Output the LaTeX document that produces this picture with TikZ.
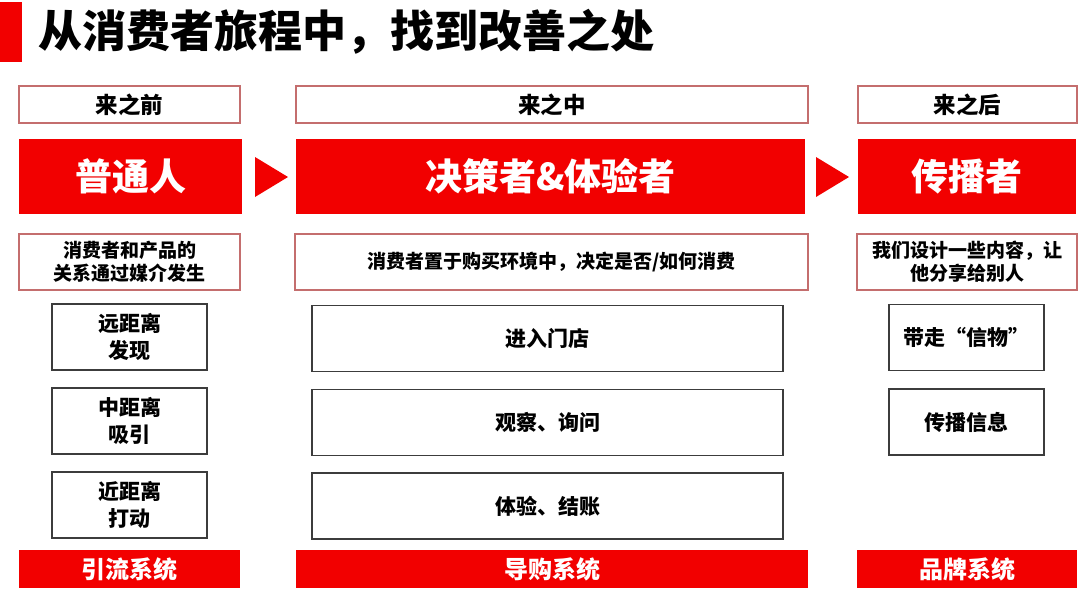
\documentclass[tikz,border=0pt]{standalone}
\usepackage{fontspec}
\setmainfont{Noto Sans CJK SC}
\definecolor{mainred}{RGB}{242,0,0}
\definecolor{pinkline}{RGB}{196,110,110}
\definecolor{boxline}{RGB}{60,60,60}
\begin{document}
\begin{tikzpicture}[x=1pt,y=-1pt,
  hdrbox/.style={draw=pinkline,line width=1.1pt,fill=white,inner sep=0pt,minimum height=37pt,font=\fontsize{22.5}{25}\selectfont\bfseries,text=black},
  redbox/.style={fill=mainred,inner sep=0pt,minimum height=75pt,font=\fontsize{37}{40}\selectfont\bfseries,text=white},
  descbox/.style={draw=pinkline,line width=1.1pt,inner sep=0pt,minimum height=56pt,align=center,font=\fontsize{19}{23}\selectfont\bfseries,text=black},
  itembox/.style={draw=boxline,line width=1.2pt,inner sep=0pt,minimum height=66pt,align=center,font=\fontsize{21}{27}\selectfont\bfseries,text=black},
  sysbar/.style={fill=mainred,inner sep=0pt,minimum height=38pt,font=\fontsize{24}{26}\selectfont\bfseries,text=white},
  arrowtri/.style={fill=mainred}
]
\useasboundingbox (0,0) rectangle (1080,590);
\fill[white] (0,0) rectangle (1080,590);
% title
\fill[mainred] (0,2) rectangle (22,62);
\node[anchor=west,inner sep=0pt,font=\fontsize{44}{47}\selectfont\bfseries] (title) at (38,32) {从消费者旅程中，找到改善之处};
% headers
\node[hdrbox,minimum width=221pt] (h1) at (129.5,104.5) {来之前};
\node[hdrbox,minimum width=512pt] (h2) at (552,104.5) {来之中};
\node[hdrbox,minimum width=219pt] (h3) at (967.5,104.5) {来之后};
% red role boxes
\node[redbox,minimum width=223pt] (r1) at (130.5,176.5) {普通人};
\node[redbox,minimum width=509pt] (r2) at (550.5,176.5) {决策者\&体验者};
\node[redbox,minimum width=218pt] (r3) at (967,176.5) {传播者};
% arrows
\fill[arrowtri] (255,157) -- (288,177) -- (255,197) -- cycle;
\fill[arrowtri] (816,157) -- (849,177) -- (816,197) -- cycle;
% descriptions
\node[descbox,minimum width=221pt] (d1) at (129.5,262) {消费者和产品的\\关系通过媒介发生};
\node[descbox,minimum width=513pt] (d2) at (551.5,262) {消费者置于购买环境中，决定是否/如何消费};
\node[descbox,minimum width=220pt] (d3) at (967,262) {我们设计一些内容，让\\他分享给别人};
% items col1
\node[itembox,minimum width=155pt] (a1) at (129.5,337) {远距离\\发现};
\node[itembox,minimum width=155pt] (a2) at (129.5,421) {中距离\\吸引};
\node[itembox,minimum width=155pt] (a3) at (129.5,505) {近距离\\打动};
% items col2
\node[itembox,minimum width=471pt] (b1) at (547.5,338.5) {进入门店};
\node[itembox,minimum width=471pt] (b2) at (547.5,422.5) {观察、询问};
\node[itembox,minimum width=471pt] (b3) at (547.5,506) {体验、结账};
% items col3
\node[itembox,minimum width=155pt] (c1) at (966.5,337.5) {带走“信物”};
\node[itembox,minimum width=155pt] (c2) at (966.5,422) {传播信息};
% system bars
\node[sysbar,minimum width=221pt] (s1) at (129.5,569) {引流系统};
\node[sysbar,minimum width=512pt] (s2) at (552,569) {导购系统};
\node[sysbar,minimum width=220pt] (s3) at (967,569) {品牌系统};
\end{tikzpicture}
\end{document}
